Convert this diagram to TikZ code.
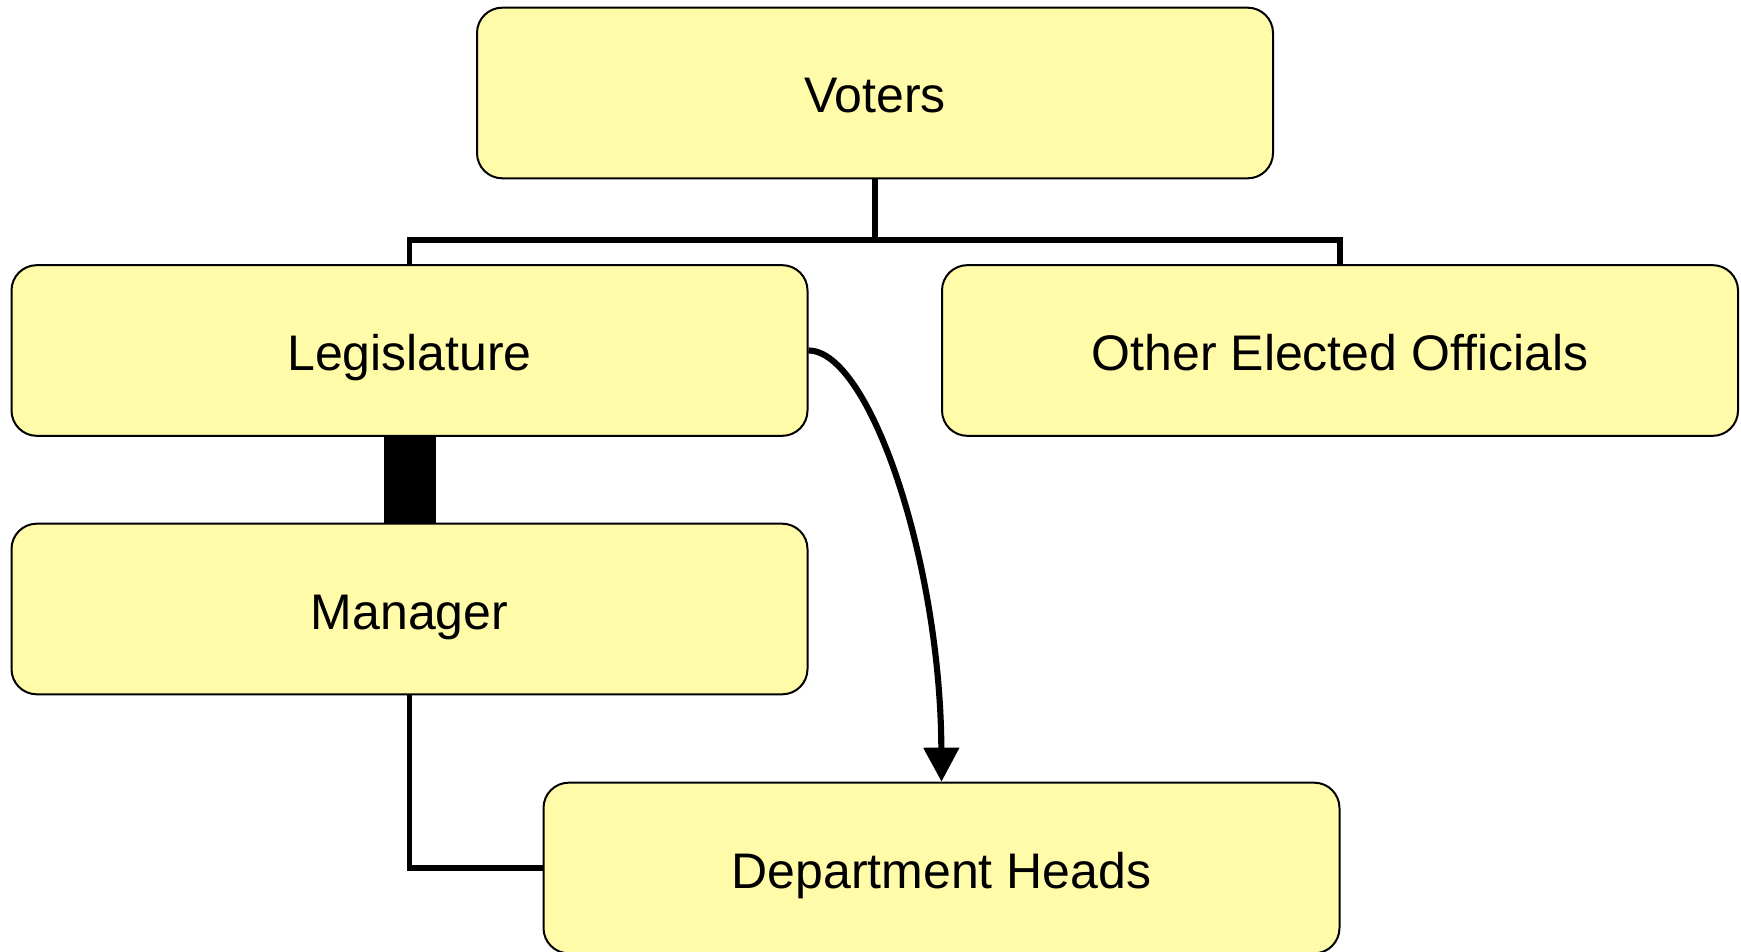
\documentclass[tikz,border=0pt]{standalone}
\usepackage{fontspec}
\setmainfont{Liberation Sans}
\usetikzlibrary{arrows.meta}
\definecolor{boxfill}{RGB}{255,251,168}
\begin{document}
\begin{tikzpicture}[x=0.75pt,y=-0.75pt,
  orgbox/.style={draw=black, line width=1.5pt, fill=boxfill, rounded corners=19pt,
    minimum width=597pt, minimum height=128pt, inner sep=0pt,
    text height=30pt, text depth=0pt,
    font=\fontsize{37.5pt}{45pt}\selectfont},
  link/.style={draw=black, line width=4.2pt},
  curvelink/.style={draw=black, line width=4.6pt},
  boldlink/.style={draw=black, line width=39pt}]
\useasboundingbox (0,0) rectangle (1741,952);
\node[orgbox] (voters) at (875,93) {Voters};
\node[orgbox] (leg) at (409.5,350.5) {Legislature};
\node[orgbox] (other) at (1340,350.5) {Other Elected Officials};
\node[orgbox] (mgr) at (409.5,609) {Manager};
\node[orgbox] (dept) at (941.5,868) {Department Heads};
\coordinate (bar) at (875,240);
% tree from voters
\draw[link] (voters.south) -- (bar);
\draw[link] (leg.north) |- (bar) -| (other.north);
% thick link
\draw[boldlink] (leg.south) -- (mgr.north);
% manager to department heads
\draw[link] (mgr.south) |- (dept.west);
% curved arrow
\draw[curvelink, -{Triangle[length=25.5pt,width=26pt]}] (leg.east) .. controls +(61,0) and +(-1,-220) .. (dept.north);
\end{tikzpicture}
\end{document}
